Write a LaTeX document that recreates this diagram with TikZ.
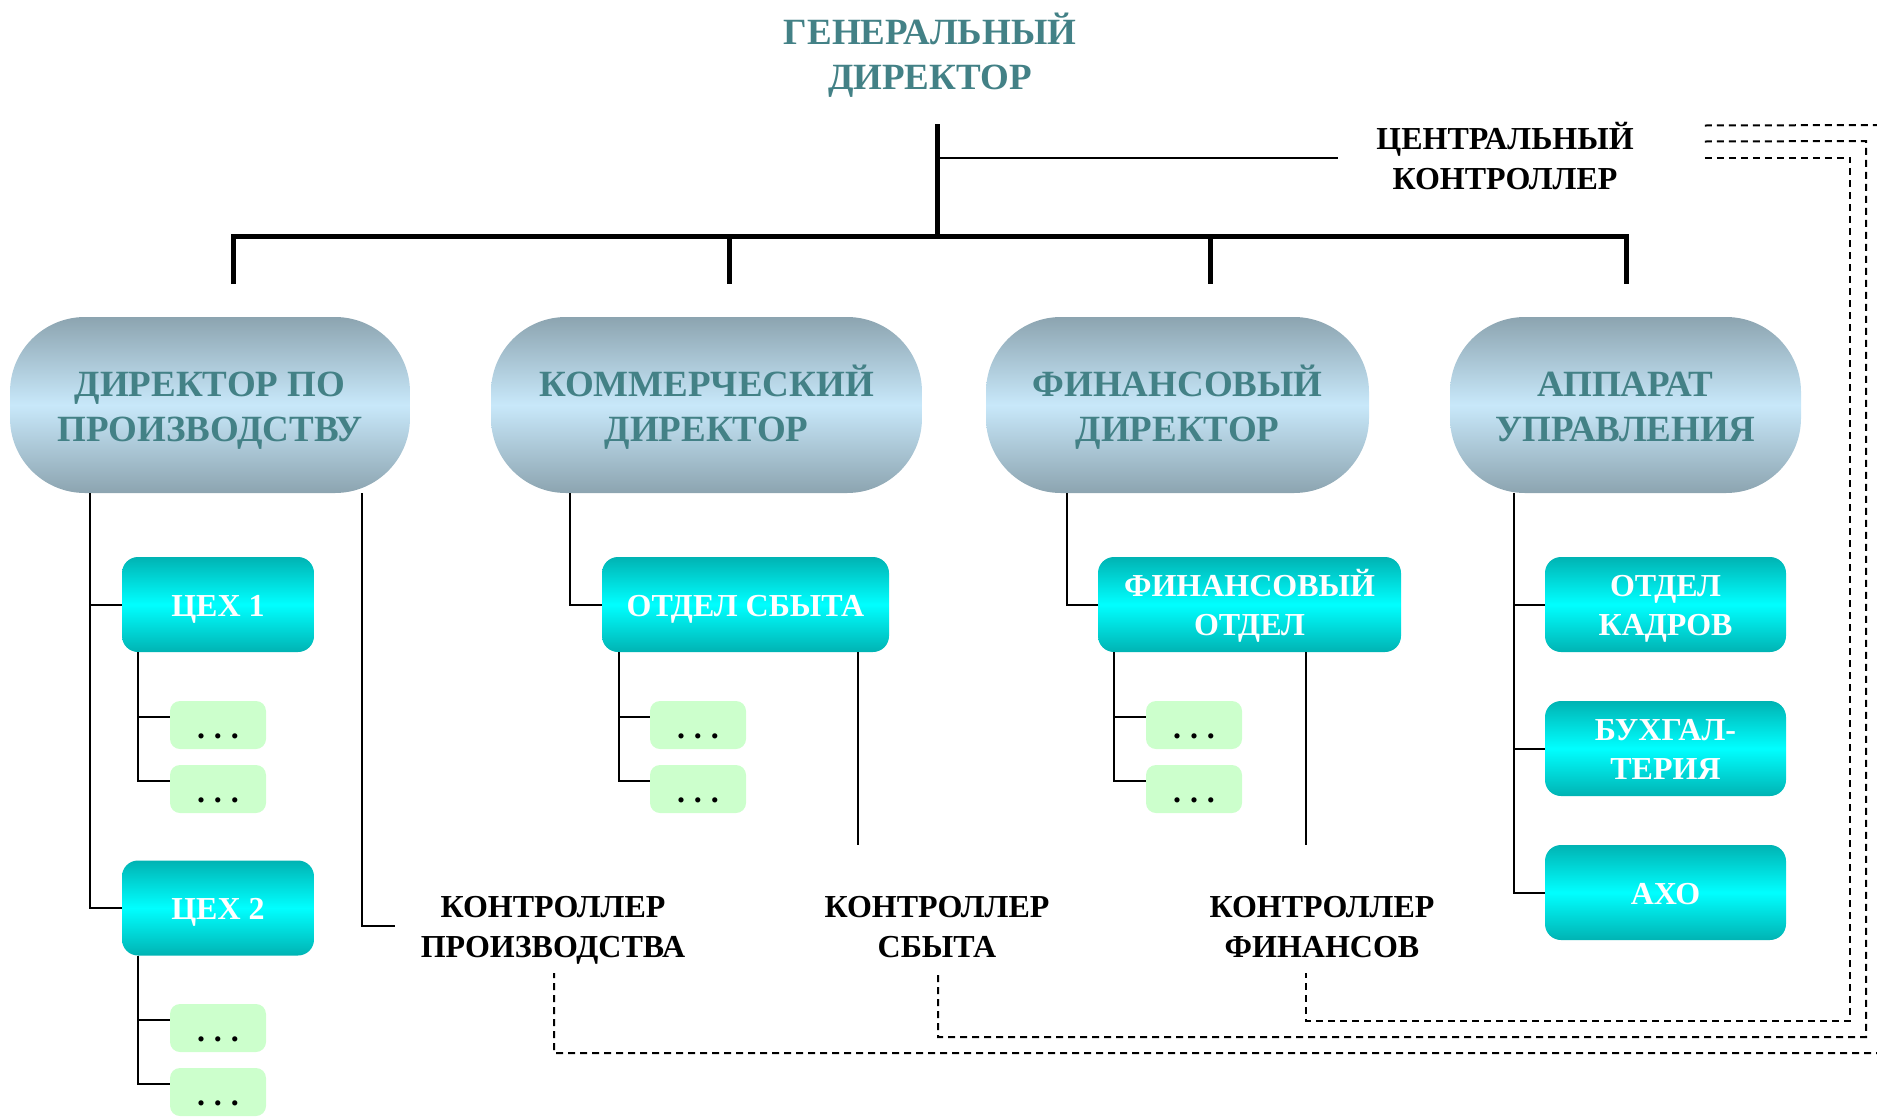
\documentclass[tikz,border=0pt]{standalone}
\usepackage{fontspec}
\setmainfont{Liberation Serif}
\definecolor{headteal}{HTML}{438186}
\definecolor{pilledge}{HTML}{8CA4B0}
\definecolor{pillmid}{HTML}{C8E8FA}
\definecolor{deptedge}{HTML}{00B3B3}
\definecolor{deptmid}{HTML}{00FFFF}
\definecolor{subfill}{HTML}{CCFFCC}
% equal height and depth for every text line, so caps sit centred
\newcommand\capfix{\vphantom{\raisebox{0.1em}{Й}Д}}

\begin{document}
\begin{tikzpicture}[x=1pt,y=-1pt,
  title/.style={align=center, inner sep=0pt, text=headteal,
    font=\fontsize{37pt}{45pt}\selectfont\bfseries},
  pill/.style={rectangle, rounded corners=75pt, minimum height=176pt, inner sep=0pt,
    top color=pilledge, bottom color=pilledge, middle color=pillmid,
    text=headteal, align=center, font=\fontsize{37pt}{45pt}\selectfont\bfseries},
  dept/.style={rectangle, rounded corners=16pt, minimum height=95pt, inner sep=0pt,
    top color=deptedge, bottom color=deptedge, middle color=deptmid,
    text=white, align=center, font=\fontsize{32pt}{39pt}\selectfont\bfseries},
  sub/.style={rectangle, rounded corners=10pt, minimum width=96pt, minimum height=48pt,
    inner sep=0pt, fill=subfill, text height=26pt, text depth=0pt,
    font=\fontsize{32pt}{38pt}\selectfont\bfseries},
  lab/.style={align=center, inner sep=0pt, font=\fontsize{32pt}{40pt}\selectfont\bfseries},
  bar/.style={line width=5pt},
  link/.style={line width=2pt},
  ctrl/.style={line width=2pt, dash pattern=on 7pt off 5pt}
]
\useasboundingbox (0,0) rectangle (1877,1117);

% top of the hierarchy
\node[title] (gd) at (930,53.5) {\capfix ГЕНЕРАЛЬНЫЙ\\\capfix ДИРЕКТОР};
\node[lab] (cc) at (1505,157.5) {\capfix ЦЕНТРАЛЬНЫЙ\\\capfix КОНТРОЛЛЕР};

% directors
\node[pill, minimum width=400pt] (p1) at (210,405) {\capfix ДИРЕКТОР ПО\\\capfix ПРОИЗВОДСТВУ};
\node[pill, minimum width=431pt] (p2) at (706.5,405) {\capfix КОММЕРЧЕСКИЙ\\\capfix ДИРЕКТОР};
\node[pill, minimum width=383pt] (p3) at (1177.5,405) {\capfix ФИНАНСОВЫЙ\\\capfix ДИРЕКТОР};
\node[pill, minimum width=351pt] (p4) at (1625.5,405) {\capfix АППАРАТ\\\capfix УПРАВЛЕНИЯ};

% departments
\node[dept, minimum width=192pt] (c1) at (218,604.5) {\capfix ЦЕХ 1};
\node[dept, minimum width=192pt] (c2) at (218,908) {\capfix ЦЕХ 2};
\node[dept, minimum width=287pt] (os) at (745.5,604.5) {\capfix ОТДЕЛ СБЫТА};
\node[dept, minimum width=303pt] (fo) at (1249.5,604.5) {\capfix ФИНАНСОВЫЙ\\\capfix ОТДЕЛ};
\node[dept, minimum width=241pt] (ok) at (1665.5,604.5) {\capfix ОТДЕЛ\\\capfix КАДРОВ};
\node[dept, minimum width=241pt] (bu) at (1665.5,748.5) {\capfix БУХГАЛ-\\\capfix ТЕРИЯ};
\node[dept, minimum width=241pt] (ax) at (1665.5,892.5) {\capfix АХО};

% lower units
\node[sub] (s11) at (218,725) {.\kern9pt.\kern9pt.};
\node[sub] (s12) at (218,789) {.\kern9pt.\kern9pt.};
\node[sub] (s21) at (218,1028) {.\kern9pt.\kern9pt.};
\node[sub] (s22) at (218,1092) {.\kern9pt.\kern9pt.};
\node[sub] (s31) at (698,725) {.\kern9pt.\kern9pt.};
\node[sub] (s32) at (698,789) {.\kern9pt.\kern9pt.};
\node[sub] (s41) at (1194,725) {.\kern9pt.\kern9pt.};
\node[sub] (s42) at (1194,789) {.\kern9pt.\kern9pt.};

% controllers
\node[lab] (kp) at (553,926) {\capfix КОНТРОЛЛЕР\\\capfix ПРОИЗВОДСТВА};
\node[lab] (ks) at (937,926) {\capfix КОНТРОЛЛЕР\\\capfix СБЫТА};
\node[lab] (kf) at (1322,926) {\capfix КОНТРОЛЛЕР\\\capfix ФИНАНСОВ};

% trunk and main bar
\coordinate (trunk) at (937,124);
\coordinate (hub) at (937,236);
\coordinate (d1) at (233,284);
\coordinate (d2) at (729,284);
\coordinate (d3) at (1210,284);
\coordinate (d4) at (1626,284);
\draw[bar] (trunk) -- (hub);
\draw[bar] (d1) -- (d1 |- hub) -- (d4 |- hub) -- (d4);
\draw[bar] (d2 |- hub) -- (d2);
\draw[bar] (d3 |- hub) -- (d3);
\draw[link] (trunk |- cc) -- ([xshift=-38pt]cc.west);

% spines below the directors
\coordinate (v1) at (90,0);
\coordinate (v2) at (362,0);
\coordinate (v3) at (570,0);
\coordinate (v4) at (1067,0);
\coordinate (v5) at (1514,0);
\draw[link] (v1 |- p1.south) |- (c2.west);
\draw[link] (v1 |- c1.west) -- (c1.west);
\draw[link] (v2 |- p1.south) |- ([xshift=-158pt]kp.center);
\draw[link] (v3 |- p2.south) |- (os.west);
\draw[link] (v4 |- p3.south) |- (fo.west);
\draw[link] (v5 |- p4.south) |- (ax.west);
\draw[link] (v5 |- ok.west) -- (ok.west);
\draw[link] (v5 |- bu.west) -- (bu.west);

% spines below the departments
\coordinate (u1) at (138,0);
\coordinate (u2) at (619,0);
\coordinate (u3) at (1114,0);
\draw[link] (u1 |- c1.south) |- ([yshift=8pt]s12.west);
\draw[link] ([yshift=8pt]s11.west) -- ++(-32,0);
\draw[link] (u1 |- c2.south) |- ([yshift=8pt]s22.west);
\draw[link] ([yshift=8pt]s21.west) -- ++(-32,0);
\draw[link] (u2 |- os.south) |- ([yshift=8pt]s32.west);
\draw[link] ([yshift=8pt]s31.west) -- ++(-31,0);
\draw[link] (u3 |- fo.south) |- ([yshift=8pt]s42.west);
\draw[link] ([yshift=8pt]s41.west) -- ++(-32,0);

% lines toward the controllers
\coordinate (ksin) at (858,845);
\coordinate (kfin) at (1306,845);
\draw[link] (ksin |- os.south) -- (ksin);
\draw[link] (kfin |- fo.south) -- (kfin);

% dashed reporting lines to the central controller
\begin{scope}
\clip (0,0) rectangle (1877,1117);
\draw[ctrl] ([xshift=71pt,yshift=32pt]cc.east) -- (1882,125) -- (1882,1053)
  -- (554,1053) -- ([xshift=1pt,yshift=-47pt]kp.center);
\draw[ctrl] ([xshift=71pt,yshift=16pt]cc.east) -- (1866,141) -- (1866,1037)
  -- (938,1037) -- ([xshift=1pt,yshift=-47pt]ks.center);
\draw[ctrl] ([xshift=71pt]cc.east) -- (1850,157.5) -- (1850,1021)
  -- (1306,1021) -- ([xshift=-16pt,yshift=-47pt]kf.center);
\end{scope}
\end{tikzpicture}
\end{document}
